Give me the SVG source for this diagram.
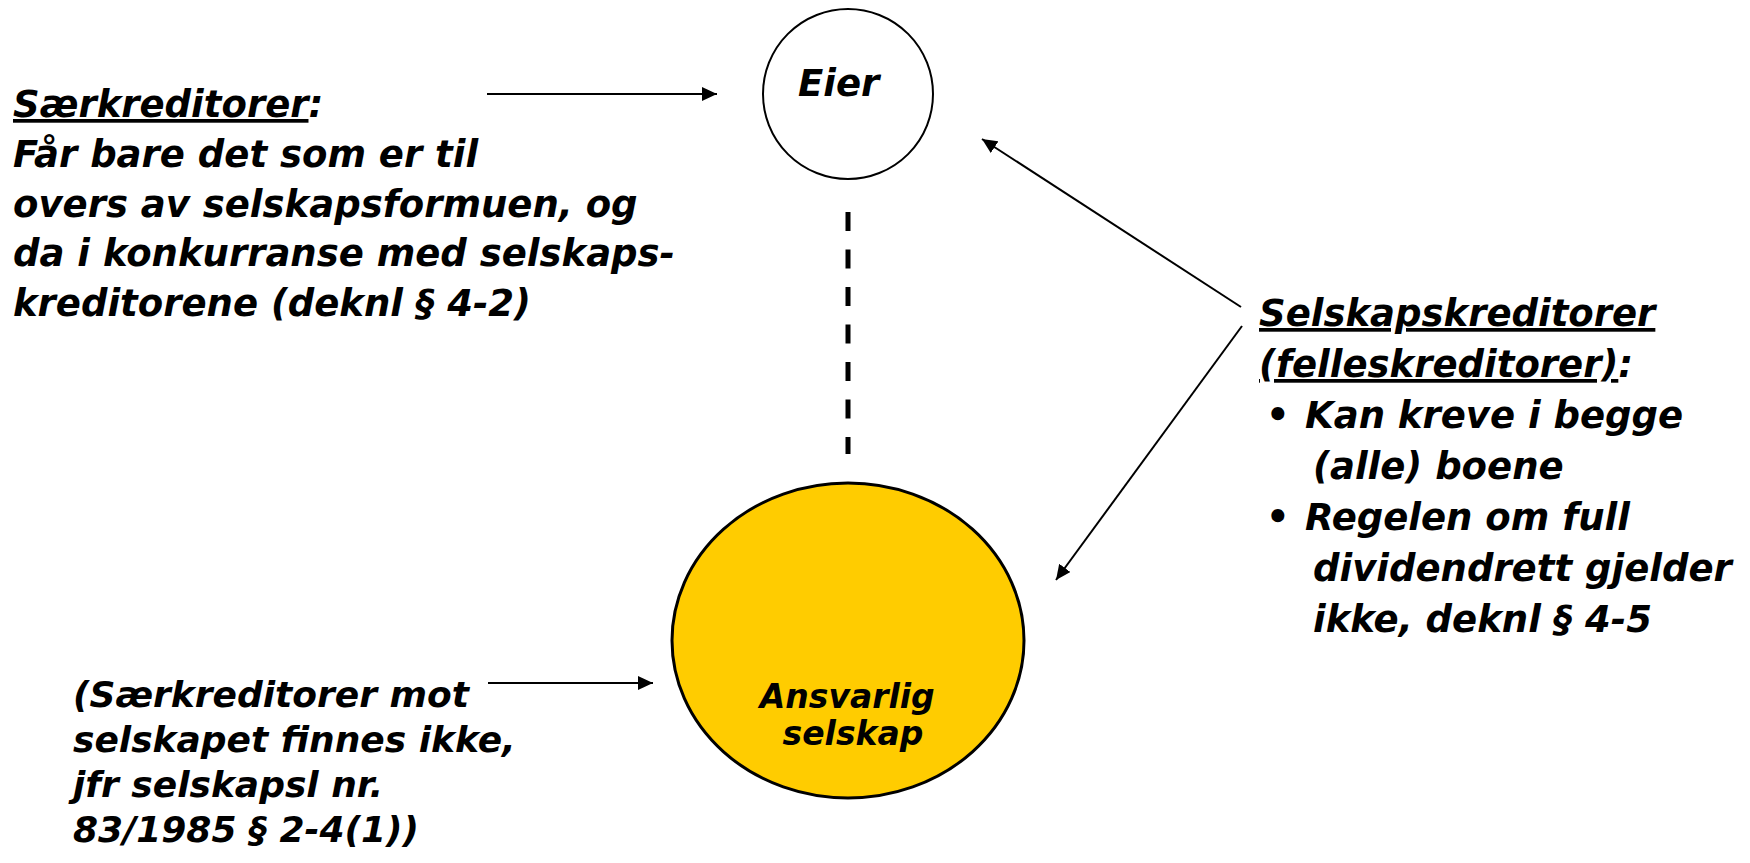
<svg xmlns="http://www.w3.org/2000/svg" width="1750" height="863" viewBox="0 0 1750 863">
  <style>
    .t { font-family: "DejaVu Sans", "Liberation Sans", sans-serif; font-weight: bold; font-style: italic; fill: #000; font-size: 37px; }
    .s { font-size: 36px; }
    .a { font-size: 33px; }
    .u { text-decoration: underline; text-decoration-thickness: 3px; text-underline-offset: 7px; }
    .conn { stroke: #000; stroke-width: 2; fill: none; }
    .dash { stroke: #000; stroke-width: 5; fill: none; stroke-dasharray: 19 18.5; }
  </style>
  <defs>
    <marker id="arr" markerUnits="userSpaceOnUse" markerWidth="16" markerHeight="14" refX="15" refY="7" orient="auto">
      <path d="M0,0 L15,7 L0,14 Z" fill="#000"/>
    </marker>
  </defs>
  <rect width="1750" height="863" fill="#fff"/>

  <g id="node-eier">
    <circle cx="848" cy="94" r="85" fill="#fff" stroke="#000" stroke-width="2"/>
    <text class="t" x="798" y="96">Eier</text>
  </g>

  <g id="node-selskap">
    <ellipse cx="848" cy="640.5" rx="176" ry="157.5" fill="#FFCC00" stroke="#000" stroke-width="3"/>
    <text class="t a" text-anchor="middle">
      <tspan x="853" y="708">Ansvarlig</tspan>
      <tspan x="853" y="745">selskap</tspan>
    </text>
  </g>

  <g id="node-saerkreditorer">
    <text class="t">
      <tspan x="13" y="117"><tspan class="u">Særkreditorer</tspan>:</tspan>
      <tspan x="13" y="167">Får bare det som er til</tspan>
      <tspan x="13" y="216.5">overs av selskapsformuen, og</tspan>
      <tspan x="13" y="266">da i konkurranse med selskaps-</tspan>
      <tspan x="13" y="315.5">kreditorene (deknl § 4-2)</tspan>
    </text>
  </g>

  <g id="node-selskapskreditorer">
    <text class="t">
      <tspan x="1259" y="326" class="u">Selskapskreditorer</tspan>
      <tspan x="1259" y="377"><tspan class="u">(felleskreditorer)</tspan>:</tspan>
      <tspan x="1266" y="428">•</tspan><tspan x="1305" y="428">Kan kreve i begge</tspan>
      <tspan x="1313" y="479">(alle) boene</tspan>
      <tspan x="1266" y="530">•</tspan><tspan x="1305" y="530">Regelen om full</tspan>
      <tspan x="1313" y="581">dividendrett gjelder</tspan>
      <tspan x="1313" y="632">ikke, deknl § 4-5</tspan>
    </text>
  </g>

  <g id="node-note">
    <text class="t s">
      <tspan x="73" y="707">(Særkreditorer mot</tspan>
      <tspan x="73" y="752">selskapet finnes ikke,</tspan>
      <tspan x="73" y="797">jfr selskapsl nr.</tspan>
      <tspan x="73" y="842">83/1985 § 2-4(1))</tspan>
    </text>
  </g>

  <g id="connectors">
    <line class="conn" x1="487" y1="94" x2="717" y2="94" marker-end="url(#arr)"/>
    <line class="conn" x1="1241" y1="307" x2="982" y2="139" marker-end="url(#arr)"/>
    <line class="conn" x1="1242" y1="326" x2="1056" y2="580" marker-end="url(#arr)"/>
    <line class="conn" x1="488" y1="683" x2="653" y2="683" marker-end="url(#arr)"/>
    <line class="dash" x1="848" y1="212" x2="848" y2="454"/>
  </g>
</svg>
